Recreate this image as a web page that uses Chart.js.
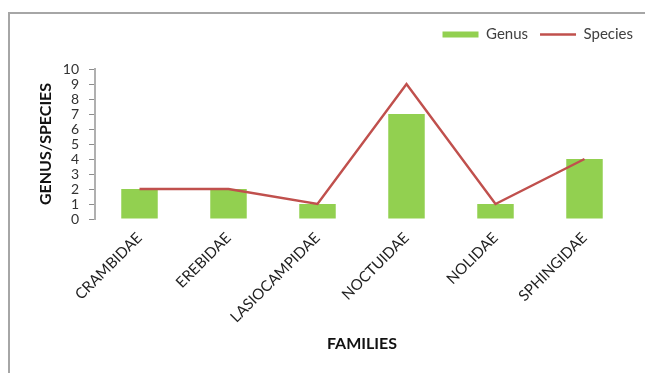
<!DOCTYPE html>
<html>
<head>
<meta charset="utf-8">
<script src="https://cdn.jsdelivr.net/npm/chart.js@4"></script>
<style>
  body { margin: 0; background: #fff; }
  #frame { position: absolute; left: 8px; top: 12px; width: 700px; height: 400px; border: 2px solid #a6a6a6; box-sizing: border-box; }
  #monGraphique { position: absolute; left: 0; top: 0; }
</style>
</head>
<body>
<div id="frame"></div>
<canvas id="monGraphique" width="645" height="373"></canvas>
<script>
const familles = ['CRAMBIDAE', 'EREBIDAE', 'LASIOCAMPIDAE', 'NOCTUIDAE', 'NOLIDAE', 'SPHINGIDAE'];
const genres = [2, 2, 1, 7, 1, 4];
const especes = [2, 2, 1, 9, 1, 4];
const graduations = [0, 1, 2, 3, 4, 5, 6, 7, 8, 9, 10];

document.addEventListener("DOMContentLoaded", function() {
    const ctx = document.getElementById('monGraphique').getContext('2d');

    const data = {
        labels: familles,
        datasets: [{
            type: 'bar',
            label: 'Genus',
            data: genres,
            backgroundColor: '#92D050',
            borderWidth: 0,
            pointStyle: 'rect',
            barPercentage: 0.41,
            categoryPercentage: 1,
            order: 1
        }, {
            type: 'line',
            label: 'Species',
            data: especes,
            borderColor: '#C0504D',
            backgroundColor: '#C0504D',
            borderWidth: 2.5,
            pointRadius: 0,
            tension: 0,
            pointStyle: 'line',
            order: 0
        }]
    };

    const config = {
        type: 'bar',
        data: data,
        options: {
            responsive: false,
            animation: false,
            layout: { padding: { top: 15, left: 32, right: 0, bottom: 16 } },
            plugins: {
                tooltip: { enabled: false },
                legend: {
                    position: 'top',
                    align: 'end',
                    labels: {
                        usePointStyle: true,
                        pointStyleWidth: 36,
                        boxHeight: 6,
                        padding: 12,
                        color: '#404040',
                        font: { family: 'Lato', size: 15 },
                        sort: (a, b) => a.datasetIndex - b.datasetIndex
                    }
                }
            },
            scales: {
                x: {
                    offset: true,
                    grid: { display: false, drawTicks: true, tickLength: 8 },
                    border: { display: false },
                    ticks: {
                        minRotation: 45, maxRotation: 45, padding: 2,
                        color: '#222',
                        font: { family: 'Lato', size: 15 }
                    },
                    title: {
                        display: true, text: 'FAMILIES', color: '#111',
                        font: { family: 'Lato', size: 16, weight: 'bold' }
                    },
                    afterFit: s => { s.height = 138; }
                },
                y: {
                    min: 0, max: 10,
                    afterBuildTicks: s => { s.ticks = graduations.map(v => ({ value: v })); },
                    grid: { drawOnChartArea: false, drawTicks: true, tickLength: 6, color: '#8c8c8c' },
                    border: { display: true, color: '#b0b0b0', width: 2 },
                    ticks: {
                        autoSkip: false,
                        padding: 10, color: '#333',
                        font: { family: 'Lato', size: 14, lineHeight: 1 }
                    },
                    title: {
                        display: true, text: 'GENUS/SPECIES', color: '#111',
                        font: { family: 'Lato', size: 16, weight: 'bold' }
                    },
                    afterFit: s => { s.width = 63; }
                },
                xT: {
                    type: 'linear', axis: 'x', position: 'top',
                    grid: { display: false }, border: { display: false },
                    ticks: { display: false },
                    afterFit: s => { s.height = 17; }
                },
                yR: {
                    type: 'linear', axis: 'y', position: 'right',
                    grid: { display: false }, border: { display: false },
                    ticks: { display: false },
                    afterFit: s => { s.width = 16; }
                }
            }
        }
    };

    const monGraphique = new Chart(ctx, config);
});
</script>
</body>
</html>
